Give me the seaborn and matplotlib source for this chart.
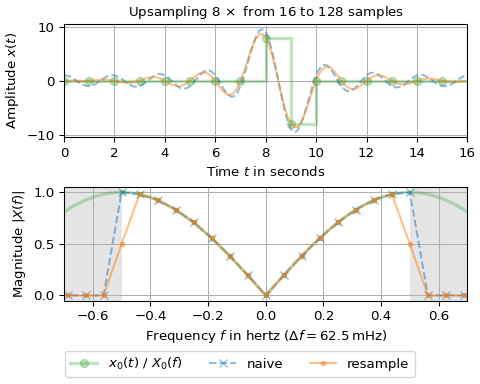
import numpy as np
import matplotlib
matplotlib.use("Agg")
import matplotlib.pyplot as plt
import seaborn as sns

# ------------------ Data ------------------
# 16 input samples, one per second
t0 = np.arange(16)
x0 = [0, 0, 0, 0, 0, 0, 0, 0, 8, -8, 0, 0, 0, 0, 0, 0]

# 128 output samples, 1/8 s apart
t1 = np.arange(128) / 8
x1_naive = [
    1.00, 0.95, 0.75, 0.40, 0.00, -0.40, -0.75, -0.95,
    -1.00, -0.87, -0.60, -0.22, 0.20, 0.59, 0.89, 1.03,
    1.00, 0.79, 0.45, 0.02, -0.42, -0.79, -1.05, -1.11,
    -1.00, -0.70, -0.28, 0.21, 0.68, 1.04, 1.24, 1.23,
    1.00, 0.59, 0.05, -0.51, -1.02, -1.37, -1.50, -1.38,
    -1.00, -0.42, 0.27, 0.97, 1.54, 1.89, 1.93, 1.63,
    1.00, 0.13, -0.87, -1.83, -2.58, -2.97, -2.87, -2.21,
    -1.00, 0.67, 2.66, 4.76, 6.72, 8.31, 9.32, 9.57,
    9.00, 7.62, 5.52, 2.90, 0.00, -2.90, -5.52, -7.62,
    -9.00, -9.57, -9.32, -8.31, -6.72, -4.76, -2.66, -0.67,
    1.00, 2.21, 2.87, 2.97, 2.58, 1.83, 0.87, -0.13,
    -1.00, -1.63, -1.93, -1.89, -1.54, -0.97, -0.27, 0.42,
    1.00, 1.38, 1.50, 1.37, 1.02, 0.51, -0.05, -0.59,
    -1.00, -1.23, -1.24, -1.04, -0.68, -0.21, 0.28, 0.70,
    1.00, 1.12, 1.05, 0.80, 0.42, -0.02, -0.45, -0.80,
    -1.00, -1.03, -0.89, -0.59, -0.20, 0.22, 0.60, 0.88,
]
x1_resample = [
    0.00, 0.03, 0.04, 0.02, 0.00, -0.02, -0.04, -0.03,
    0.00, 0.05, 0.11, 0.16, 0.20, 0.21, 0.18, 0.11,
    0.00, -0.13, -0.26, -0.36, -0.42, -0.41, -0.34, -0.19,
    0.00, 0.22, 0.43, 0.59, 0.68, 0.66, 0.53, 0.30,
    0.00, -0.34, -0.65, -0.90, -1.02, -0.99, -0.80, -0.45,
    0.00, 0.50, 0.98, 1.35, 1.54, 1.51, 1.22, 0.70,
    0.00, -0.80, -1.58, -2.21, -2.58, -2.59, -2.16, -1.29,
    0.00, 1.59, 3.37, 5.14, 6.72, 7.93, 8.61, 8.65,
    8.00, 6.70, 4.81, 2.52, 0.00, -2.52, -4.81, -6.70,
    -8.00, -8.65, -8.61, -7.93, -6.72, -5.14, -3.37, -1.59,
    0.00, 1.29, 2.16, 2.59, 2.58, 2.21, 1.58, 0.80,
    0.00, -0.70, -1.22, -1.51, -1.54, -1.35, -0.98, -0.50,
    0.00, 0.45, 0.80, 0.99, 1.02, 0.90, 0.65, 0.34,
    0.00, -0.30, -0.53, -0.66, -0.68, -0.59, -0.43, -0.22,
    0.00, 0.19, 0.34, 0.41, 0.42, 0.36, 0.26, 0.13,
    0.00, -0.11, -0.18, -0.21, -0.20, -0.16, -0.11, -0.05,
]

# spectra: bins are 1/16 Hz apart
f0 = np.arange(-8, 8) / 16
X0_mag = [1.000, 0.981, 0.924, 0.831, 0.707, 0.556, 0.383, 0.195,
          0.000, 0.195, 0.383, 0.556, 0.707, 0.831, 0.924, 0.981]
f1 = np.arange(-12, 13) / 16
X1_naive = [0, 0, 0, 0, 1.000, 0.981, 0.924, 0.831, 0.707, 0.556, 0.383, 0.195, 0.000,
            0.195, 0.383, 0.556, 0.707, 0.831, 0.924, 0.981, 1.000, 0, 0, 0, 0]
X1_resample = [0, 0, 0, 0, 0.500, 0.981, 0.924, 0.831, 0.707, 0.556, 0.383, 0.195, 0.000,
               0.195, 0.383, 0.556, 0.707, 0.831, 0.924, 0.981, 0.500, 0, 0, 0, 0]
# continuous spectrum of x0, every 25 mHz
f_dtft = np.arange(-28, 29) / 40
X0_dtft = [0.809, 0.853, 0.891, 0.924, 0.951, 0.972, 0.988, 0.997, 1.000, 0.997, 0.988, 0.972,
           0.951, 0.924, 0.891, 0.853, 0.809, 0.760, 0.707, 0.649, 0.588, 0.522, 0.454, 0.383,
           0.309, 0.233, 0.156, 0.078, 0.000, 0.078, 0.156, 0.233, 0.309, 0.383, 0.454, 0.522,
           0.588, 0.649, 0.707, 0.760, 0.809, 0.853, 0.891, 0.924, 0.951, 0.972, 0.988, 0.997,
           1.000, 0.997, 0.988, 0.972, 0.951, 0.924, 0.891, 0.853, 0.809]

# ------------------ Plot ------------------
fig, (ax0, ax1) = plt.subplots(2, 1, figsize=(5, 4), dpi=96, layout="constrained")

# top: time domain; step line held until t=16
t_step = np.append(t0, 16)
x_step = np.append(x0, x0[0])
sns.lineplot(x=t_step, y=x_step, ax=ax0, color="C2", marker="o", markevery=list(range(16)),
             drawstyle="steps-post", alpha=.3, lw=2.5, ms=6, mec="C2", mew=1.0,
             label="$x_0(t)$ / $X_0(f)$")
sns.lineplot(x=t1, y=x1_naive, ax=ax0, color="C0", linestyle="--", alpha=.5, lw=1.5)
sns.lineplot(x=t1, y=x1_resample, ax=ax0, color="C1", alpha=.5, lw=1.5)
ax0.set_title(r"Upsampling $8\,\times$ from 16 to 128 samples", fontsize=10)
ax0.set(xlabel=r"Time $t$ in seconds", ylabel=r"Amplitude $x(t)$", xlim=(0, 16))
ax0.grid(True)

# bottom: frequency domain
ax1.axvspan(-0.8, -0.5, color="gray", alpha=.2, lw=0)
ax1.axvspan(0.5, 0.8, color="gray", alpha=.2, lw=0)
sns.lineplot(x=f_dtft, y=X0_dtft, ax=ax1, color="C2", alpha=.3, lw=2.5)
sns.lineplot(x=f0, y=X0_mag, ax=ax1, color="C2", linestyle="", marker="s", ms=3.5,
             alpha=.3, mec="C2", mew=1.0)
sns.lineplot(x=f1, y=X1_naive, ax=ax1, color="C0", linestyle="--", marker="x", alpha=.5,
             lw=1.5, ms=6, mec="C0", mew=1.0, label="naive")
sns.lineplot(x=f1, y=X1_resample, ax=ax1, color="C1", marker=".", alpha=.5,
             lw=1.5, ms=6, mec="C1", mew=1.0, label="resample")
ax1.set(xlabel=r"Frequency $f$ in hertz ($\Delta f = 62.5\,$mHz)",
        ylabel=r"Magnitude $|X(f)|$", xlim=(-0.7, 0.7))
ax1.grid(True)

h0, l0 = ax0.get_legend_handles_labels()
h1, l1 = ax1.get_legend_handles_labels()
for ax in (ax0, ax1):
    if ax.get_legend() is not None:
        ax.get_legend().remove()
fig.legend(h0 + h1, l0 + l1, loc="outside lower center", ncols=3)

fig.savefig("out.png", dpi=96)
